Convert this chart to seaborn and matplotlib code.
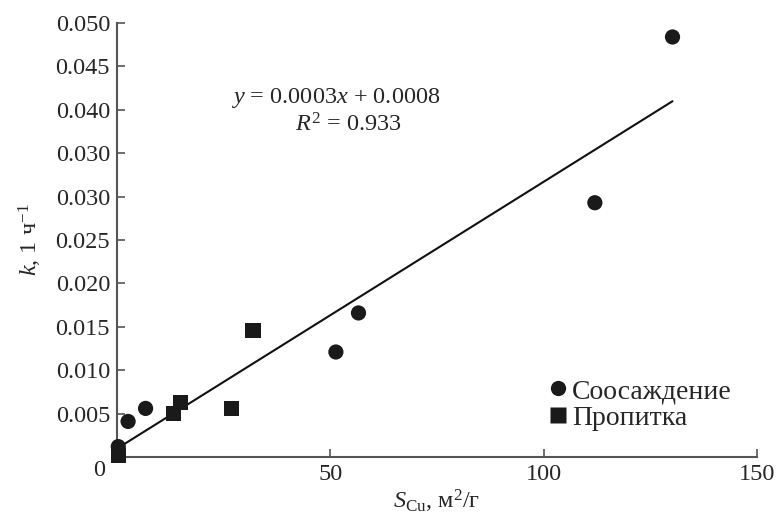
import numpy as np
import pandas as pd
import matplotlib
matplotlib.use("Agg")
import matplotlib.pyplot as plt
import seaborn as sns

# values
copr_x = [0.3, 2.6, 6.7, 51.3, 56.6, 112.0, 130.2]
copr_y = [0.0012, 0.0041, 0.0056, 0.0121, 0.0166, 0.0293, 0.0484]
impr_x = [0.3, 13.2, 14.8, 26.9, 31.9]
impr_y = [0.0002, 0.0050, 0.0063, 0.0056, 0.0146]
series_names = ["Соосаждение", "Пропитка"]

ytick_vals = [0.005, 0.010, 0.015, 0.020, 0.025, 0.030, 0.035, 0.040, 0.045, 0.050]
ytick_labels = ["0.005", "0.010", "0.015", "0.020", "0.025",
                "0.030", "0.030", "0.040", "0.045", "0.050"]
xtick_vals = [50, 100, 150]
eq_text = "$y$ = 0.0003$x$ + 0.0008"
r2_text = "$R^2$ = 0.933"

df = pd.DataFrame({
    "S": copr_x + impr_x,
    "k": copr_y + impr_y,
    "method": [series_names[0]] * len(copr_x) + [series_names[1]] * len(impr_x),
})

sns.set_style("ticks")
plt.rcParams["font.family"] = ["Liberation Serif", "DejaVu Serif"]
plt.rcParams["mathtext.fontset"] = "custom"
plt.rcParams["mathtext.rm"] = "Liberation Serif"
plt.rcParams["mathtext.it"] = "Liberation Serif:italic"

fs = 17.5
fig = plt.figure(figsize=(7.8, 5.25), dpi=100)
ax = fig.add_axes([0.15, 0.1295, 0.8205, 0.8265])

sns.regplot(data=df, x="S", y="k", scatter=False, ci=None, ax=ax,
            line_kws=dict(color="#111111", lw=1.5))
sns.scatterplot(data=df, x="S", y="k", hue="method", style="method",
                markers={series_names[0]: "o", series_names[1]: "s"},
                palette={series_names[0]: "#1a1a1a", series_names[1]: "#1a1a1a"},
                s=120, edgecolor="none", ax=ax, clip_on=False, zorder=5)

ax.set_xlim(0, 150)
ax.set_ylim(0, 0.050)
ax.set_xticks(xtick_vals)
ax.set_xticklabels([str(v) for v in xtick_vals])
ax.set_yticks(ytick_vals)
ax.set_yticklabels(ytick_labels)
ax.tick_params(direction="in", length=6, width=1.2, labelsize=fs,
               color="#555555", pad=5)
for side in ["left", "bottom"]:
    ax.spines[side].set_linewidth(1.5)
    ax.spines[side].set_color("#555555")
sns.despine(ax=ax)

ax.annotate("0", xy=(0, 0), xytext=(-13, -10), textcoords="offset points",
            ha="center", va="center", fontsize=fs)

ax.set_xlabel(r"$S_{\mathrm{Cu}}$, м$^2$/г", fontsize=fs, labelpad=2)
ax.set_ylabel(r"$k$, 1 ч$^{-1}$", fontsize=fs, labelpad=8)

ax.text(0.342, 0.827, eq_text, transform=ax.transAxes, ha="center",
        va="center", fontsize=fs)
ax.text(0.361, 0.765, r2_text, transform=ax.transAxes, ha="center",
        va="center", fontsize=fs)

leg = ax.legend(loc="lower right", bbox_to_anchor=(0.961, 0.06), frameon=False,
                fontsize=20, handlelength=1.0, handletextpad=0.0,
                labelspacing=0.05, borderpad=0.0, borderaxespad=0.0,
                title=None)
for h in leg.legend_handles:
    h.set_markersize(11)

fig.savefig("out.png", dpi=100)
